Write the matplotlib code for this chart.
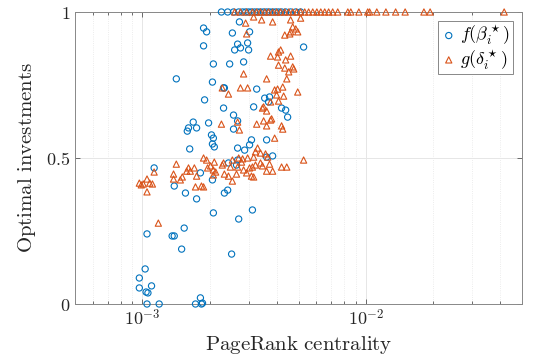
import matplotlib.pyplot as plt
import numpy as np
from matplotlib.ticker import LogLocator, NullFormatter

plt.rcParams['mathtext.fontset'] = 'cm'

# PageRank centrality (units of 1e-3) and optimal investment, f(beta*)
f_x = [2.26, 2.41, 2.56, 2.70, 2.81, 2.90, 2.99, 3.08, 3.18, 3.28, 3.38, 3.49, 3.60, 3.71,
       3.83, 3.95, 4.07, 4.20, 4.38, 4.61, 4.86, 5.11,
       1.88, 1.94, 1.88, 2.08, 1.42, 2.06, 1.90, 2.72, 2.53, 3.02, 2.67, 2.96, 2.59, 2.75,
       2.99, 5.27, 2.46, 2.84, 2.31, 2.33, 3.25, 3.53, 3.71, 3.67, 2.31, 3.15, 4.20, 4.38,
       4.47, 2.56, 2.67, 2.56, 1.69, 1.61, 1.59, 1.75, 1.98, 2.04, 2.08, 1.63, 2.06, 2.10,
       2.67, 2.87, 3.02, 3.08, 3.60, 3.83, 3.60, 2.67, 2.43, 1.13, 1.39, 1.56, 1.75, 1.82,
       2.06, 2.64, 2.08, 2.70, 3.11, 2.51, 2.33, 2.41, 1.05, 1.36, 1.39, 1.54, 1.50, 1.03,
       0.97, 0.97, 1.10, 1.04, 1.06, 1.05, 1.19, 1.73, 1.82, 1.84, 1.86]
f_y = [1, 1, 1, 1, 1, 1, 1, 1, 1, 1, 1, 1, 1, 1,
       1, 1, 1, 1, 1, 1, 1, 1,
       0.945, 0.932, 0.884, 0.822, 0.771, 0.760, 0.699, 0.966, 0.928, 0.932, 0.890, 0.894, 0.870, 0.877,
       0.870, 0.880, 0.822, 0.829, 0.740, 0.740, 0.736, 0.705, 0.709, 0.692, 0.671, 0.675, 0.671, 0.664,
       0.640, 0.647, 0.627, 0.599, 0.623, 0.603, 0.592, 0.603, 0.620, 0.579, 0.568, 0.531, 0.548, 0.538,
       0.534, 0.527, 0.545, 0.562, 0.562, 0.507, 0.503, 0.493, 0.483, 0.466, 0.404, 0.380, 0.360, 0.449,
       0.425, 0.476, 0.312, 0.291, 0.322, 0.171, 0.380, 0.390, 0.240, 0.233, 0.233, 0.260, 0.188, 0.120,
       0.089, 0.055, 0.062, 0.041, 0.038, 0, 0, 0, 0.021, 0, 0.003]

# g(delta*)
g_x = [2.59, 2.75, 2.93, 3.11, 3.25, 3.38, 3.53, 3.67, 3.83, 3.99, 4.16, 4.34, 4.52, 4.71,
       4.91, 5.11, 5.33, 5.55, 5.79, 6.04, 6.29, 6.55, 6.82, 7.11, 7.49, 8.31, 8.57, 9.31,
       10.2, 10.4, 11.2, 12.3, 13.6, 15.0, 18.2, 19.4, 41.6,
       2.90, 3.15, 3.42, 3.83, 2.93, 4.61, 5.11, 4.71, 4.86, 4.96, 4.61, 4.34, 4.57, 4.16,
       4.07, 3.75, 4.03, 4.61, 4.38, 4.07, 4.34, 4.71, 4.76, 4.52, 2.84, 3.60, 4.43, 2.75,
       2.96, 2.43, 2.28, 3.91, 4.03, 4.25, 4.96, 3.99, 4.29, 3.75, 4.07, 3.49, 3.45, 3.60,
       3.79, 3.49, 3.75, 3.60, 2.26, 2.67, 2.72, 3.25, 4.20, 4.25, 3.91, 3.28, 3.21, 3.38,
       3.56, 3.64, 3.15, 2.96, 2.81, 2.70, 2.53, 2.31, 2.10, 2.28, 2.08, 2.13, 2.48, 2.67,
       2.84, 3.02, 3.21, 3.45, 3.71, 3.83, 3.60, 4.20, 4.43, 5.27, 2.33, 2.43, 2.64, 2.93,
       3.08, 2.53, 2.08, 3.11, 3.15, 2.78, 3.38, 1.13, 1.42, 1.88, 1.94, 1.61, 1.58, 1.71,
       1.64, 1.38, 1.38, 1.51, 1.48, 1.75, 1.96, 2.02, 0.97, 0.99, 1.01, 1.05, 1.08, 1.11,
       1.05, 1.73, 1.84, 1.88, 1.18]
g_y = [1, 1, 1, 1, 1, 1, 1, 1, 1, 1, 1, 1, 1, 1,
       1, 1, 1, 1, 1, 1, 1, 1, 1, 1, 1, 1, 1, 1,
       1, 1, 1, 1, 1, 1, 1, 1, 1,
       0.962, 0.983, 0.973, 0.966, 0.925, 0.973, 0.979, 0.949, 0.942, 0.932, 0.932, 0.921, 0.925, 0.870,
       0.863, 0.849, 0.846, 0.849, 0.836, 0.818, 0.808, 0.812, 0.805, 0.795, 0.788, 0.771, 0.771, 0.740,
       0.740, 0.719, 0.740, 0.733, 0.736, 0.743, 0.726, 0.716, 0.712, 0.692, 0.695, 0.675, 0.671, 0.661,
       0.634, 0.627, 0.630, 0.610, 0.616, 0.623, 0.596, 0.616, 0.610, 0.599, 0.568, 0.534, 0.521, 0.517,
       0.514, 0.503, 0.503, 0.500, 0.497, 0.500, 0.493, 0.483, 0.486, 0.476, 0.459, 0.452, 0.469, 0.469,
       0.459, 0.466, 0.476, 0.473, 0.479, 0.455, 0.455, 0.469, 0.469, 0.493, 0.445, 0.438, 0.445, 0.449,
       0.438, 0.421, 0.442, 0.469, 0.435, 0.486, 0.483, 0.452, 0.479, 0.500, 0.493, 0.466, 0.455, 0.466,
       0.455, 0.445, 0.428, 0.435, 0.425, 0.438, 0.466, 0.473, 0.414, 0.408, 0.411, 0.428, 0.414, 0.411,
       0.384, 0.401, 0.404, 0.401, 0.277]

f_x = np.array(f_x) * 1e-3
g_x = np.array(g_x) * 1e-3

fig = plt.figure(figsize=(5.33, 3.59), dpi=100)
ax = fig.add_axes([0.1407, 0.1532, 0.8387, 0.8134])

blue = '#0072BD'
orange = '#D95319'
ax.scatter(f_x, f_y, s=20, marker='o', facecolors='none', edgecolors=blue,
           linewidths=0.8, clip_on=False, zorder=3, label=r'$f(\beta_i^\star)$')
ax.scatter(g_x, g_y, s=20, marker='^', facecolors='none', edgecolors=orange,
           linewidths=0.8, clip_on=False, zorder=3, label=r'$g(\delta_i^\star)$')

ax.set_xscale('log')
ax.set_xlim(5e-4, 5e-2)
ax.set_ylim(0, 1)
ax.set_yticks([0, 0.5, 1])
ax.set_yticklabels([r'$0$', r'$0.5$', r'$1$'])
ax.set_xticks([1e-3, 1e-2])
ax.set_xticklabels([r'$10^{-3}$', r'$10^{-2}$'])
ax.xaxis.set_minor_locator(LogLocator(base=10, subs=np.arange(2, 10)))
ax.xaxis.set_minor_formatter(NullFormatter())

ax.grid(True, which='major', color='#e6e6e6', linewidth=0.7, zorder=0)
ax.grid(True, which='minor', axis='x', color='#e6e6e6', linewidth=0.6, linestyle=':', zorder=0)
ax.set_axisbelow(True)

ax.tick_params(which='both', direction='in', top=True, right=True, colors='#555555',
               labelcolor='#262626', labelsize=13, width=0.6)
ax.tick_params(which='major', length=3.5)
ax.tick_params(which='minor', length=2)
for sp in ax.spines.values():
    sp.set_color('#888888')
    sp.set_linewidth(0.7)

ax.set_xlabel(r'$\mathrm{PageRank\ centrality}$', fontsize=15, color='#262626', labelpad=3)
ax.set_ylabel(r'$\mathrm{Optimal\ investments}$', fontsize=15, color='#262626', labelpad=6)

leg = ax.legend(loc='upper right', bbox_to_anchor=(0.980, 0.969), borderaxespad=0,
                fontsize=13, handletextpad=0.2, handlelength=0.9, borderpad=0.15,
                labelspacing=0.05, fancybox=False, framealpha=1)
leg.get_frame().set_edgecolor('#888888')
leg.get_frame().set_linewidth(0.7)

plt.savefig('out.png', dpi=100)
